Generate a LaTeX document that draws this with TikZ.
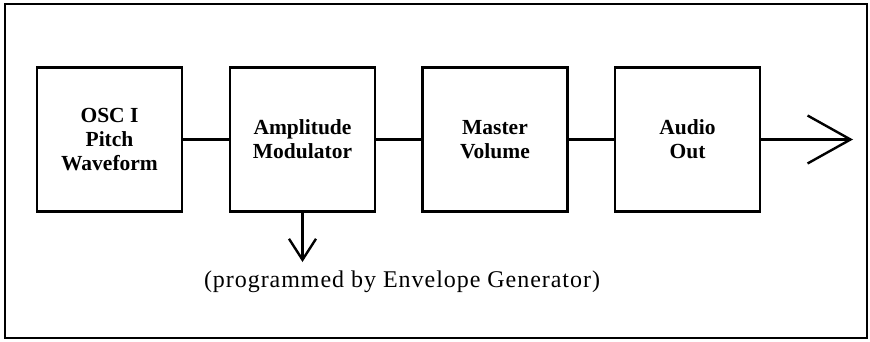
\documentclass[tikz,border=0pt]{standalone}
\usepackage{fontspec}
\setmainfont{Liberation Serif}
\usetikzlibrary{arrows.meta}
\begin{document}
\begin{tikzpicture}[x=1pt,y=-1pt,
  blk/.style={draw,line width=2.6pt,minimum width=145pt,minimum height=144pt,
    align=center,inner sep=0pt,font=\fontsize{21.5}{24}\selectfont\bfseries},
  wire/.style={line width=2.4pt},
  barb/.style={line width=2.4pt,-{Straight Barb[length=43pt,width=48pt,line width=2.4pt]}},
  dbarb/.style={line width=2.4pt,-{Straight Barb[length=21pt,width=27pt,line width=2.4pt]}}
]
\useasboundingbox (0,0) rectangle (870,341);
\draw[line width=2.6pt] (5,4) rectangle (867,338);
\node[blk] (b1) at (109.5,139.5) {OSC I\\Pitch\\Waveform};
\node[blk] (b2) at (302.5,139.5) {Amplitude\\Modulator};
\node[blk] (b3) at (495,139.5) {Master\\Volume};
\node[blk] (b4) at (687.5,139.5) {Audio\\Out};
\coordinate (out) at (853,139.5);
\coordinate (dn) at (302.5,262);
\draw[wire] (b1) -- (b2);
\draw[wire] (b2) -- (b3);
\draw[wire] (b3) -- (b4);
\draw[barb] (b4.east) -- (out);
\draw[dbarb] (b2.south) -- (dn);
\node[anchor=base,inner sep=0pt,font=\fontsize{24}{27}\selectfont\addfontfeature{LetterSpace=4}] (lab) at (402,287) {(programmed by Envelope Generator)};
\end{tikzpicture}
\end{document}
